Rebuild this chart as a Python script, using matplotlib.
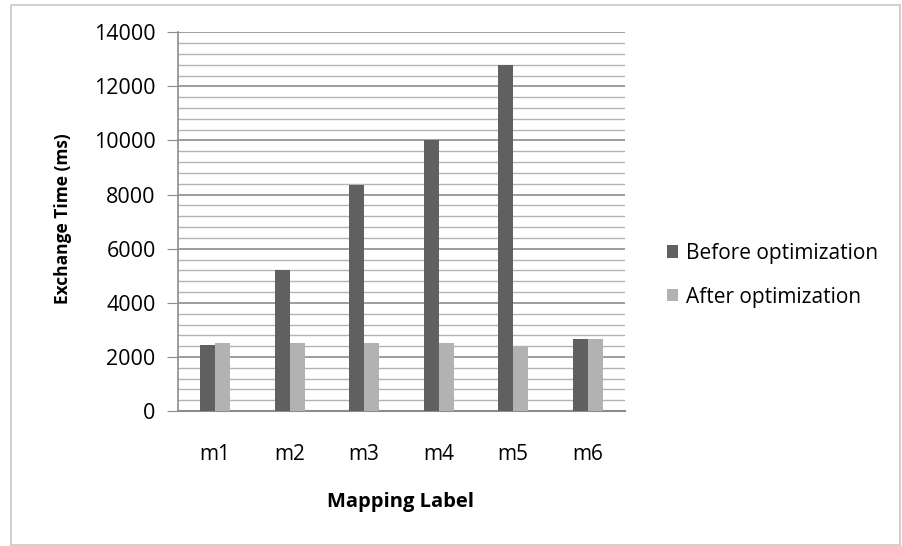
import numpy as np
import matplotlib.pyplot as plt
from matplotlib.patches import Rectangle
from matplotlib.ticker import MultipleLocator

labels = ['m1', 'm2', 'm3', 'm4', 'm5', 'm6']
before = [2450, 5220, 8350, 10000, 12800, 2650]
after = [2510, 2500, 2500, 2500, 2400, 2650]

plt.rcParams['font.family'] = ['Open Sans', 'DejaVu Sans']

fig = plt.figure(figsize=(9.03, 5.46), dpi=100)
ax = fig.add_axes([0.197, 0.247, 0.495, 0.694])

# outer frame
fig.patches.append(Rectangle((0.012, 0.002), 0.985, 0.988, transform=fig.transFigure,
                             fill=False, edgecolor='#c8c8c8', linewidth=1.2))

x = np.arange(len(labels))
w = 0.2
ax.bar(x - w / 2, before, w, color='#606060', label='Before optimization', zorder=3)
ax.bar(x + w / 2, after, w, color='#b2b2b2', label='After optimization', zorder=3)

ax.set_xlim(-0.5, 5.5)
ax.set_ylim(0, 14000)
ax.yaxis.set_major_locator(MultipleLocator(2000))
ax.yaxis.set_minor_locator(MultipleLocator(400))
ax.grid(which='major', axis='y', color='#8c8c8c', linewidth=1.2, zorder=0)
ax.grid(which='minor', axis='y', color='#b4b4b4', linewidth=1.0, zorder=0)

ax.set_xticks(x)
ax.set_xticklabels(labels)
ax.tick_params(axis='x', length=0, pad=24, labelsize=15)
ax.tick_params(axis='y', which='major', length=8, color='#8c8c8c', pad=8, labelsize=15.5)
ax.tick_params(axis='y', which='minor', length=0)

for s in ['top', 'right']:
    ax.spines[s].set_visible(False)
ax.spines['left'].set_color('#8c8c8c')
ax.spines['bottom'].set_color('#8c8c8c')
ax.spines['left'].set_linewidth(1.2)
ax.spines['bottom'].set_linewidth(1.5)

ax.set_ylabel('Exchange Time (ms)', fontsize=12.5, fontweight='bold')
ax.set_xlabel('Mapping Label', fontsize=14.5, fontweight='bold')
ax.yaxis.set_label_coords(-0.237, 0.507)
ax.xaxis.set_label_coords(0.497, -0.214)

ax.legend(loc='center left', bbox_to_anchor=(1.094, 0.359), frameon=False,
          fontsize=15, handlelength=0.55, handleheight=0.55, handletextpad=0.35,
          labelspacing=1.1, borderpad=0, borderaxespad=0)

plt.savefig('out.png', dpi=100)
